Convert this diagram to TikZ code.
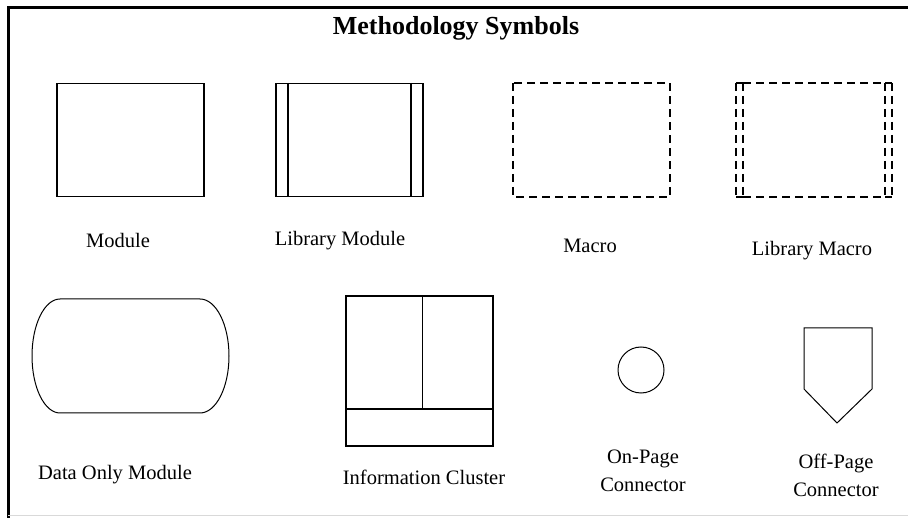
\documentclass[tikz,border=0pt]{standalone}
\usepackage{fontspec}
\setmainfont{Liberation Serif}
\usetikzlibrary{positioning,fit}

\begin{document}
\begin{tikzpicture}[x=1pt,y=-1pt]
		\tikzset{symbox/.style={draw=black,rectangle,line width=1.3pt,inner sep=0pt},
			symline/.style={draw=black,line width=1.3pt},
			dashline/.style={draw=black,line width=1.3pt,dash pattern=on 8pt off 5pt},
			label/.style={font=\fontsize{20.5}{28}\selectfont,align=center,inner sep=0pt}}
		\useasboundingbox (0,0) rectangle (908,518);

		% frame
		\draw[line width=3pt] (908,8) -- (8,8) -- (8,518);
		\draw[gray!30,line width=1pt] (8,515) -- (908,515);

		\node[font=\fontsize{26}{30}\selectfont\bfseries] (titel) at (456,28) {Methodology Symbols};

		% top row
		\node[symbox, minimum width=147, minimum height=113] (module) at (130.5,140) {};
		\node[label] (modulelbl) at (118,240) {Module};

		\node[symbox, minimum width=147, minimum height=113] (libmodule) at (349.5,140) {};
		\draw[symline] (288,83) -- (288,196);
		\draw[symline] (411,83) -- (411,196);
		\node[label] (libmodulelbl) at (340,241) {Library Module};

		\draw[dashline] (513,83) rectangle (670,197);
		\node[label] (macrolbl) at (590,246) {Macro};

		\draw[dashline] (736,83) -- (736,197);
		\draw[dashline] (743,83) -- (743,197);
		\draw[dashline] (885,83) -- (885,197);
		\draw[dashline] (892,83) -- (892,197);
		\draw[dashline] (743,83) -- (885,83);
		\draw[dashline] (743,197) -- (885,197);
		\draw[symline] (736,83) -- (743,83) (885,83) -- (892,83);
		\draw[symline] (736,197) -- (743,197) (885,197) -- (892,197);
		\node[label] (libmacrolbl) at (812,251) {Library Macro};

		% bottom row
		\draw[line width=1pt] (60,299) -- (200,299) arc[start angle=-90, end angle=90, x radius=29, y radius=57]
			-- (60,413) arc[start angle=90, end angle=270, x radius=28, y radius=57] -- cycle;
		\node[label] (datalbl) at (115,475) {Data Only Module};

		\node[symbox, minimum width=147, minimum height=150] (cluster) at (419.5,371) {};
		\draw[symline] (422.5,296) -- (422.5,409);
		\draw[symline] (346,409) -- (493,409);
		\node[label] (clusterlbl) at (424,477) {Information Cluster};

		\node[draw=black, circle, line width=1pt, minimum size=46, inner sep=0pt] (onpage) at (641,370) {};
		\node[label] (onpagelbl) at (643,471) {On-Page\\Connector};

		\draw[line width=1pt] (804,328) -- (872,328) -- (872,389) -- (837,423) -- (804,389) -- cycle;
		\node[label] (offpagelbl) at (836,475) {Off-Page\\Connector};
	\end{tikzpicture}
\end{document}
